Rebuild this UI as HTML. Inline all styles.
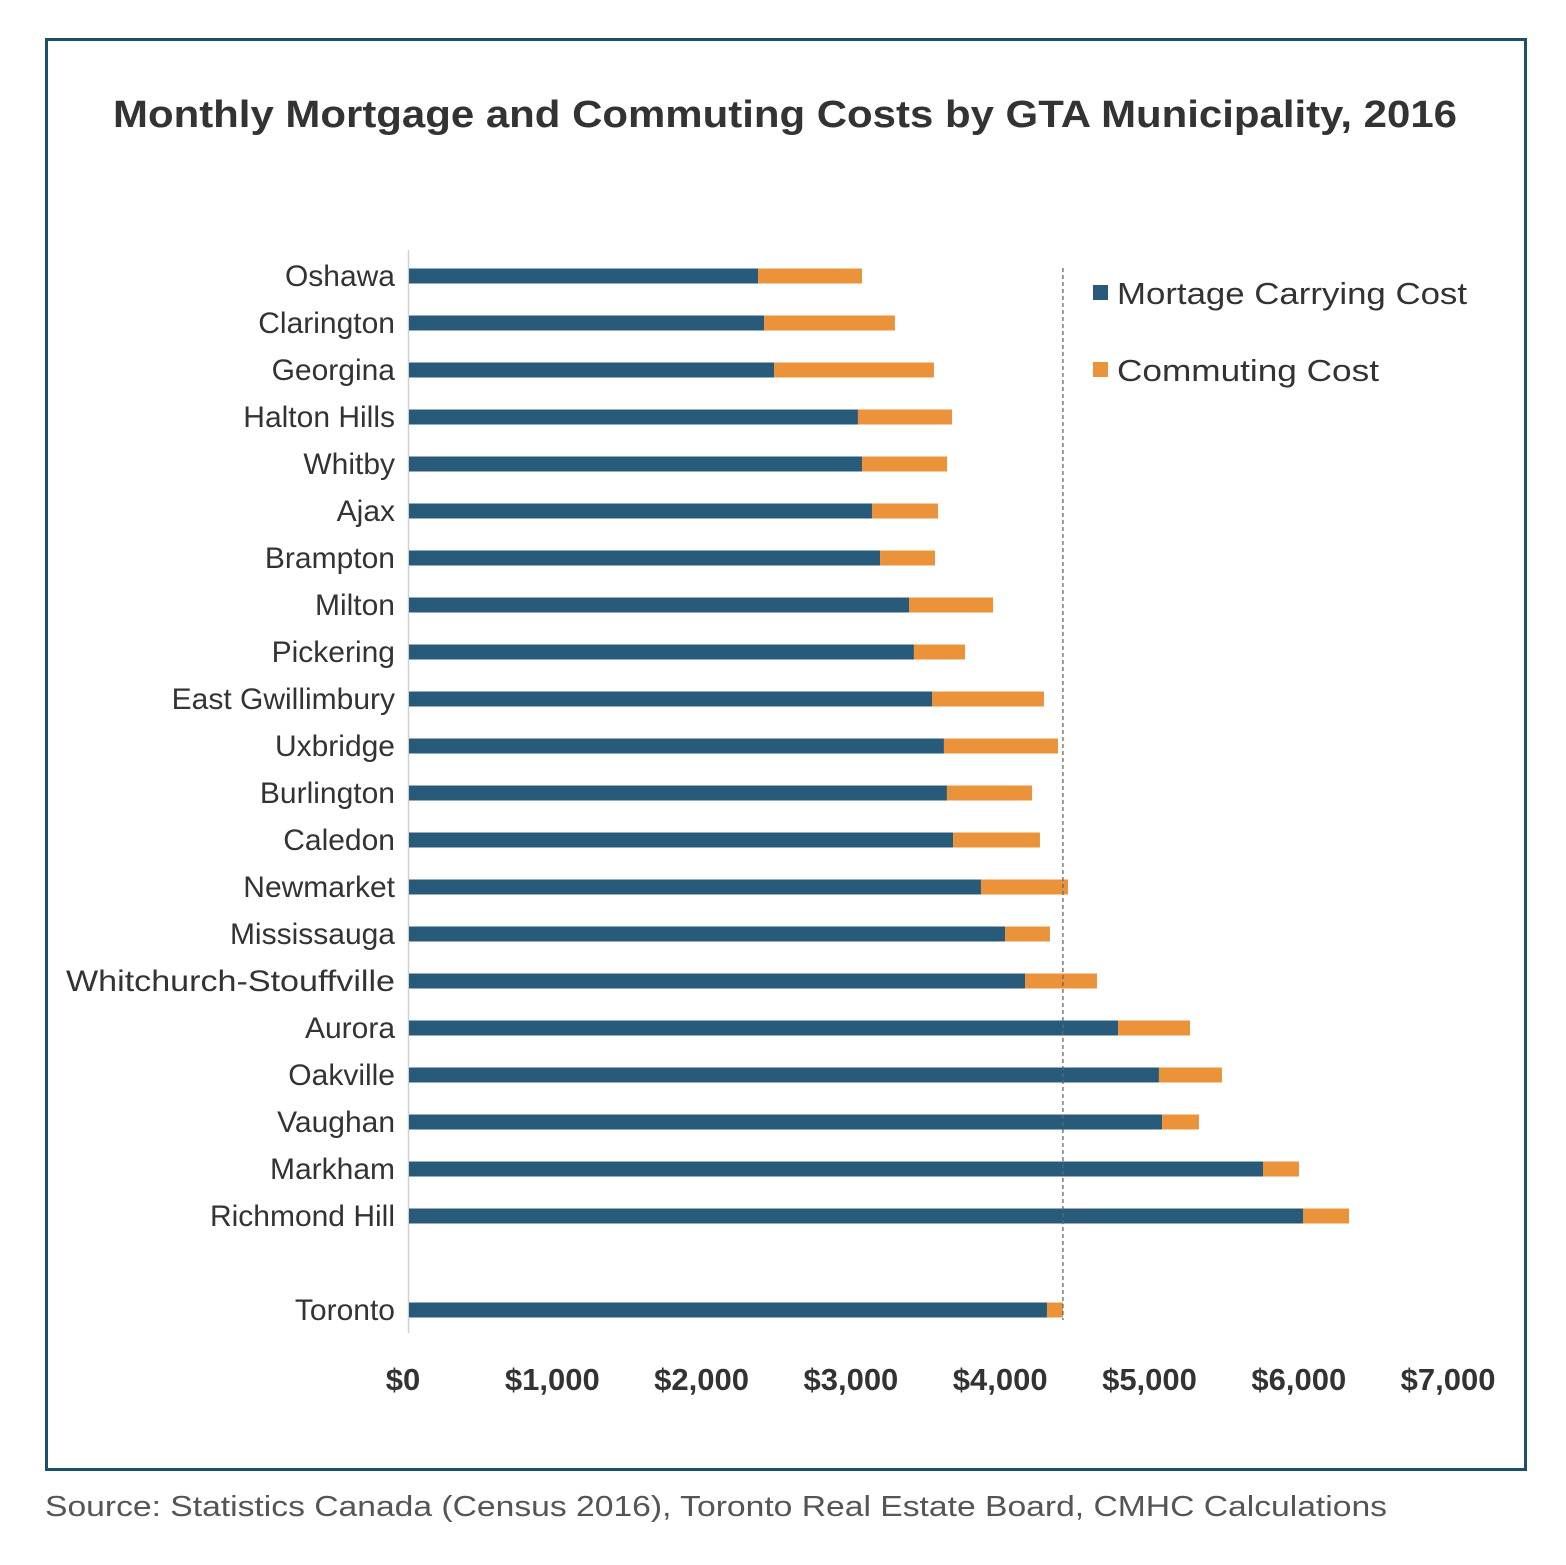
<!DOCTYPE html>
<html><head><meta charset="utf-8"><style>
body{margin:0;background:#fff;}
svg{display:block;font-family:"Liberation Sans",sans-serif;}
</style></head><body>
<svg id="chart" width="1566" height="1565">
<rect x="46.5" y="39.5" width="1479" height="1430" fill="none" stroke="#1c4f6b" stroke-width="3"/>
<text x="113" y="127" textLength="1344" lengthAdjust="spacingAndGlyphs" font-size="38" font-weight="bold" fill="#333">Monthly Mortgage and Commuting Costs by GTA Municipality, 2016</text>
<line x1="408.5" y1="250" x2="408.5" y2="1333" stroke="#d0d0d0" stroke-width="1.5"/>
<g id="bars"></g>
<g id="labels"></g>
<g id="ticks"></g>
<rect x="1093" y="285" width="15" height="15" fill="#285a79"/>
<text x="1117" y="304" textLength="350" lengthAdjust="spacingAndGlyphs" font-size="31" fill="#333">Mortage Carrying Cost</text>
<rect x="1093" y="362" width="15" height="15" fill="#eb933a"/>
<text x="1117" y="381" textLength="262" lengthAdjust="spacingAndGlyphs" font-size="31" fill="#333">Commuting Cost</text>
<text x="45" y="1516" textLength="1342" lengthAdjust="spacingAndGlyphs" font-size="29" fill="#555">Source: Statistics Canada (Census 2016), Toronto Real Estate Board, CMHC Calculations</text>
</svg>
<script>
const categories=["Oshawa","Clarington","Georgina","Halton Hills","Whitby","Ajax","Brampton","Milton","Pickering","East Gwillimbury","Uxbridge","Burlington","Caledon","Newmarket","Mississauga","Whitchurch-Stouffville","Aurora","Oakville","Vaughan","Markham","Richmond Hill","Toronto"];
const mortgage=[2338,2378,2445,3007,3034,3101,3155,3349,3382,3503,3583,3603,3644,3831,3992,4126,4749,5023,5044,5720,5988,4273];
const commuting=[696,877,1071,630,570,442,368,563,342,750,764,570,582,583,301,482,482,422,247,241,308,107];
const tickValues=[0,1000,2000,3000,4000,5000,6000,7000];
const tickLabels=["$0","$1,000","$2,000","$3,000","$4,000","$5,000","$6,000","$7,000"];
const NS="http://www.w3.org/2000/svg";
const x=v=>409+v*0.1493;
const y=i=>(i<21?276+i*47:1310);
const bars=document.getElementById('bars'),labels=document.getElementById('labels'),ticks=document.getElementById('ticks');
function mk(tag,attrs,parent){const e=document.createElementNS(NS,tag);for(const k in attrs)e.setAttribute(k,attrs[k]);parent.appendChild(e);return e;}
categories.forEach((c,i)=>{
  const r1=mk('rect',{x:x(0),y:y(i)-7.5,width:x(mortgage[i])-x(0),height:15,fill:'#285a79'},bars);
  
  
  const r2=mk('rect',{x:x(mortgage[i]),y:y(i)-7.5,width:x(mortgage[i]+commuting[i])-x(mortgage[i]),height:15,fill:'#eb933a'},bars);
  
  
  const t=mk('text',{x:395,y:y(i)+10,'text-anchor':'end','font-size':30,fill:'#333'},labels);
  t.textContent=c;
  
  
  if(c==="Whitchurch-Stouffville"){t.setAttribute('textLength','329');t.setAttribute('lengthAdjust','spacingAndGlyphs');}
});
const ti=categories.length-1;
const ref=mk('line',{x1:x(mortgage[ti]+commuting[ti]),x2:x(mortgage[ti]+commuting[ti]),y1:268,y2:1320,stroke:'#666','stroke-width':1.3,'stroke-dasharray':'4,3'},bars);


tickValues.forEach((v,i)=>{
  const t=mk('text',{x:x(v)-6,y:1390,'text-anchor':'middle','font-size':31,fill:'#333','font-weight':'bold'},ticks);
  t.textContent=tickLabels[i];
  
  
});
</script>
</body></html>
